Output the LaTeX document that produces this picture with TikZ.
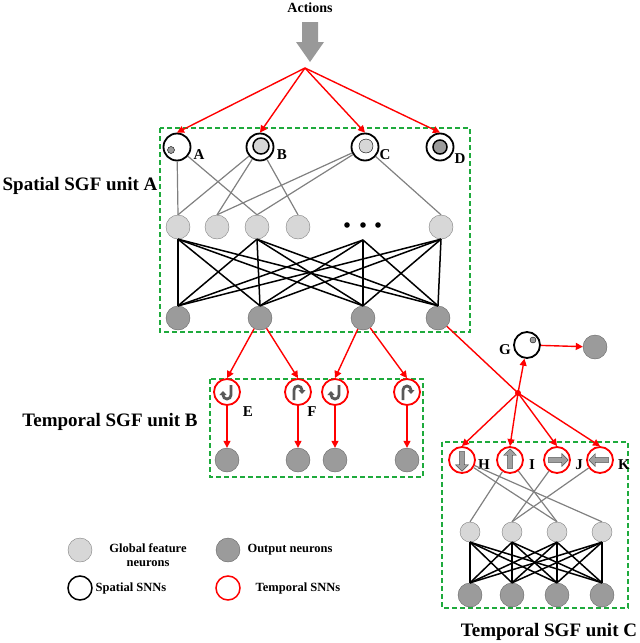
\documentclass[tikz,border=0pt]{standalone}
\usepackage{fontspec}
\setmainfont{Liberation Serif}
\usetikzlibrary{arrows.meta,shapes.arrows}
\definecolor{lgray}{RGB}{215,215,215}
\definecolor{dgray}{RGB}{155,155,155}
\definecolor{dgreen}{RGB}{30,170,60}
\begin{document}
\begin{tikzpicture}[x=1pt,y=-1pt,font=\bfseries,
  hid/.style={circle,draw=gray,fill=lgray,minimum size=24pt,inner sep=0pt},
  outn/.style={circle,draw=gray!80!black,fill=dgray,minimum size=24pt,inner sep=0pt},
  sp/.style={circle,draw=black,line width=1.8pt,minimum size=27pt,inner sep=0pt},
  tp/.style={circle,draw=red,line width=1.8pt,minimum size=26pt,inner sep=0pt},
  ra/.style={red,line width=1.4pt,-{Triangle[length=7pt,width=7pt]}},
  gl/.style={gray,line width=1.2pt},
  bl/.style={black,line width=1.5pt},
  box/.style={draw=dgreen,dash pattern=on 5pt off 3pt,line width=1.6pt},
  lab/.style={font=\bfseries\fontsize{15}{17}\selectfont},
  leg/.style={font=\bfseries\fontsize{12.5}{14}\selectfont},
  ttl/.style={font=\bfseries\fontsize{19}{21}\selectfont},
  ut/.style={draw=gray!70!black,line width=2.8pt,-{Triangle[length=4pt,width=7pt]}},
  ar/.style={single arrow,draw=gray!60!black,fill=gray!75,minimum height=20pt,minimum width=13pt,single arrow head extend=2pt,inner sep=1pt}]
\useasboundingbox (0,0) rectangle (640,643);
% top
\node[font=\bfseries\fontsize{14}{16}\selectfont] (act) at (310,8) {Actions};
\fill[gray!80] (302,22) -- (318,22) -- (318,42) -- (324,42) -- (310,62) -- (296,42) -- (302,42) -- cycle;
\coordinate (hub) at (305,68);
% unit A
\draw[box] (160,128) rectangle (470,332);
\node[ttl] at (80,186) {Spatial SGF unit A};
\node[sp] (A) at (177,147) {}; \fill[dgray,draw=black] (171,150) circle (3.5pt);
\node[sp] (B) at (260,147) {}; \draw[black,line width=1.5pt,fill=lgray] (261,146) circle (8pt);
\node[sp] (C) at (365,147) {}; \draw[black,fill=lgray] (366,146) circle (7pt);
\node[sp] (D) at (440,147) {}; \draw[black,line width=1.5pt,fill=dgray] (440,147) circle (7pt);
\node[lab] at (199,155) {A}; \node[lab] at (282,155) {B};
\node[lab] at (385,155) {C}; \node[lab] at (460,159) {D};
\foreach \n in {A,B,C,D} \draw[ra] (hub) -- (\n.north);
\foreach \i/\x in {1/178,2/217,3/257,4/298,6/441} \node[hid] (h\i) at (\x,227) {};
\foreach \x in {347,363,378} \fill (\x,225) circle (2.8pt);
\coordinate (h5) at (363,240);
\foreach \i/\x in {1/178,2/260,3/363,4/438} \node[outn] (o\i) at (\x,318) {};
\draw[gl] (A) -- (h1.north); \draw[gl] (A) -- (h3.north);
\draw[gl] (B) -- (h1.north); \draw[gl] (B) -- (h2.north); \draw[gl] (B) -- (h4.north);
\draw[gl] (C) -- (h2.north); \draw[gl] (C) -- (h3.north); \draw[gl] (C) -- (h6.north);
\foreach \a in {h1.south,h3.south,h5,h6.south}
  \foreach \b in {o1.north,o2.north,o3.north,o4.north}
    \draw[bl] (\a) -- (\b);
% unit B
\draw[box] (210,379) rectangle (423,477);
\node[ttl] at (110,422) {Temporal SGF unit B};
\foreach \i/\x in {1/227,2/298,3/335,4/407} {
  \node[tp] (t\i) at (\x,392) {};
  \node[outn] (u\i) at (\x,460) {};
  \draw[ra] (t\i) -- (u\i);
}
\foreach \x in {227,335}
  \draw[ut] (\x+4,385) -- (\x+4,395) arc (0:180:4) -- (\x-4,391);
\foreach \x in {298,407}
  \draw[ut] (\x-4,400) -- (\x-4,390) arc (180:360:4) -- (\x+4,394);
\node[lab] at (248,412) {E}; \node[lab] at (312,412) {F};
\draw[ra] (o2) -- (t1.north); \draw[ra] (o2) -- (t2.north);
\draw[ra] (o3) -- (t3.north); \draw[ra] (o3) -- (t4.north);
% unit C
\coordinate (hub2) at (518,393);
\draw[red,line width=1.4pt] (o4) -- (hub2);
\node[sp,minimum size=26pt] (G) at (527,345) {}; \fill[dgray,draw=black] (533,340) circle (3pt);
\node[lab] at (505,350) {G};
\node[outn] (gout) at (595,347) {};
\draw[ra] (hub2) -- (G); \draw[ra] (G) -- (gout);
\draw[box] (442,442) rectangle (628,608);
\node[ttl] at (549,632) {Temporal SGF unit C};
\foreach \n/\x in {H/462,I/510,J/557,K/600} {
  \node[tp] (\n) at (\x,460) {};
  \draw[ra] (hub2) -- (\n.north);
}
\fill[red] (hub2) circle (3pt);
\node[ar,rotate=-90] at (H) {}; \node[ar,rotate=90] at (I) {};
\node[ar] at (J) {}; \node[ar,rotate=180] at (K) {};
\node[lab] at (484,465) {H}; \node[lab] at (532,465) {I};
\node[lab] at (579,465) {J}; \node[lab] at (624,465) {K};
\foreach \i/\x in {1/470,2/512,3/557,4/602} {
  \node[hid,minimum size=20pt] (c\i) at (\x,532) {};
  \node[outn] (d\i) at (\x,595) {};
}
\draw[gl] (H) -- (c3.north); \draw[gl] (H) -- (c4.north);
\draw[gl] (I) -- (c1.north); \draw[gl] (I) -- (c3.north);
\draw[gl] (J) -- (c2.north); \draw[gl] (K) -- (c2.north);
\foreach \a in {c1,c2,c3,c4}
  \foreach \b in {d1,d2,d3,d4}
    \draw[bl] (\a.south) -- (\b.north);
% legend
\node[hid] (l1) at (80,550) {};
\node[leg,align=center] at (148,555) {Global feature\\neurons};
\node[outn] (l2) at (228,550) {};
\node[leg] at (290,550) {Output neurons};
\node[sp,minimum size=24pt,line width=1.5pt] (l3) at (80,588) {};
\node[leg] at (131,588) {Spatial SNNs};
\node[tp,minimum size=24pt,line width=1.5pt] (l4) at (228,588) {};
\node[leg] at (298,588) {Temporal  SNNs};
\end{tikzpicture}
\end{document}
